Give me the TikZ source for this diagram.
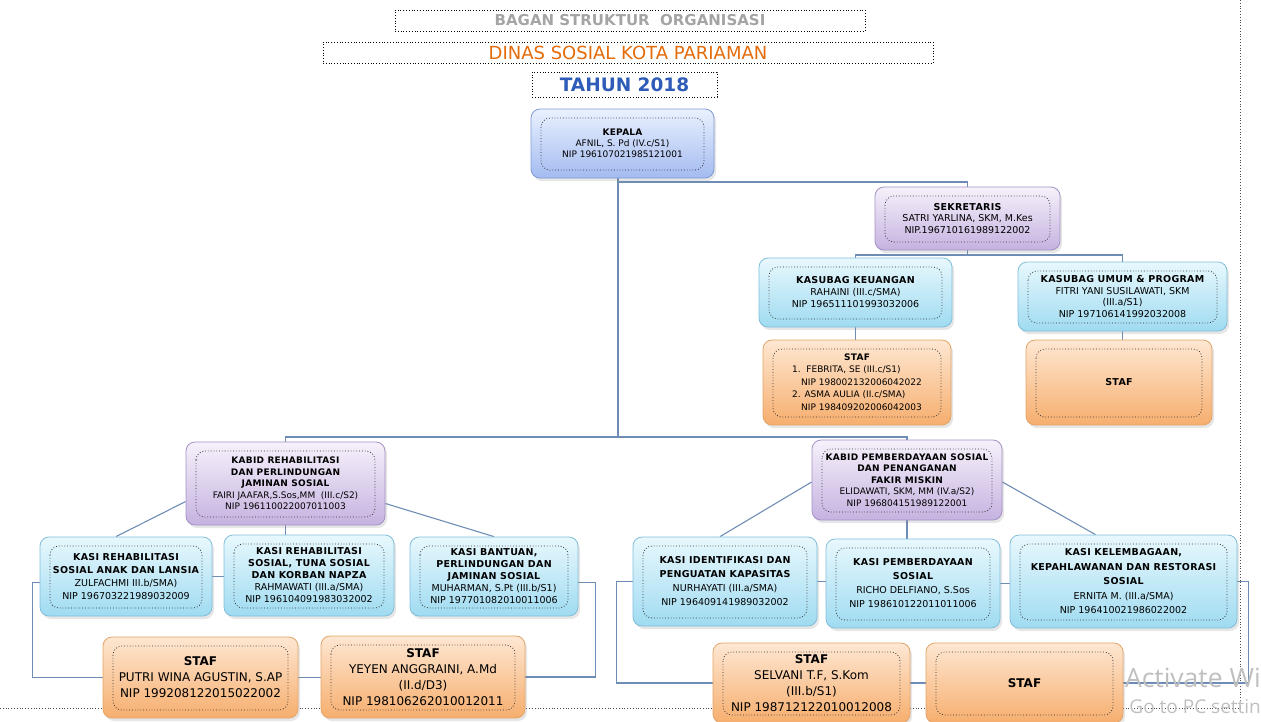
\documentclass[tikz,border=0pt]{standalone}
\usepackage{fontspec}
\setmainfont{DejaVu Sans}
\newfontfamily\wmfont{Open Sans}
\usetikzlibrary{shadows,backgrounds}

\definecolor{lineblue}{HTML}{6F8DB4}
\definecolor{kasitop}{HTML}{E8F8FD}
\definecolor{kasibot}{HTML}{9FDBF1}
\definecolor{kasiedge}{HTML}{80BEDA}
\definecolor{kabidtop}{HTML}{F6F1FB}
\definecolor{kabidbot}{HTML}{C5B2E0}
\definecolor{kabidedge}{HTML}{A391C4}
\definecolor{kepalatop}{HTML}{EAF1FF}
\definecolor{kepalabot}{HTML}{A3BBF0}
\definecolor{kepalaedge}{HTML}{7F9BD5}
\definecolor{staftop}{HTML}{FEE7D2}
\definecolor{stafbot}{HTML}{F6AE6E}
\definecolor{stafedge}{HTML}{E3A467}
\definecolor{titlegrey}{HTML}{A5A5A5}
\definecolor{titleorange}{HTML}{E46C0A}
\definecolor{titleblue}{HTML}{2E5CB8}

\newcommand{\hdr}[1]{{\bfseries\addfontfeatures{LetterSpace=3}#1}}

\tikzset{
  orgbox/.style={rounded corners=9pt, draw=#1edge, top color=#1top, bottom color=#1bot,
    line width=0.8pt, drop shadow={opacity=0.2, shadow xshift=2pt, shadow yshift=-3pt},
    align=center, text=black, inner sep=2pt, font=\fontsize{9.5}{12}\selectfont,
    path picture={\draw[dotted, line width=0.8pt, black!80]
      ([shift={(10pt,-9pt)}]path picture bounding box.north west) rectangle
      ([shift={(-10pt,8pt)}]path picture bounding box.south east);}},
  stafbox/.style={orgbox=staf, font=\fontsize{12}{16}\selectfont},
  titlebox/.style={draw, dotted, line width=0.8pt, fill=white, inner sep=0pt},
  link/.style={draw=lineblue, line width=1.1pt},
  pageline/.style={dotted, line width=0.8pt, black!70}
}

\begin{document}
\begin{tikzpicture}[x=1pt, y=-1pt]
\useasboundingbox (0,0) rectangle (1261,721);
\clip (0,0) rectangle (1261,721);

% judul
\node[titlebox, minimum width=470, minimum height=21, text=titlegrey,
      font=\fontsize{15}{15}\selectfont\bfseries] (judul) at (630,20.5) {BAGAN STRUKTUR\ \ ORGANISASI};
\node[titlebox, minimum width=610, minimum height=21, text=titleorange,
      font=\fontsize{18}{18}\selectfont] (dinas) at (628,52.5) {DINAS SOSIAL KOTA PARIAMAN};
\node[titlebox, minimum width=185, minimum height=25, text=titleblue,
      font=\fontsize{18.5}{18.5}\selectfont\bfseries] (tahun) at (624.5,84.5) {TAHUN 2018};

% pimpinan dan sekretariat
\node[orgbox=kepala, minimum width=183, minimum height=69, font=\fontsize{9}{11}\selectfont] (kepala) at (622.5,143.5)
  {\hdr{KEPALA}\\AFNIL, S. Pd (IV.c/S1)\\NIP 196107021985121001};
\node[orgbox=kabid, minimum width=185, minimum height=63, font=\fontsize{9.5}{11.5}\selectfont] (sekr) at (967.5,218.5)
  {\hdr{SEKRETARIS}\\SATRI YARLINA, SKM, M.Kes\\NIP.196710161989122002};
\node[orgbox=kasi, minimum width=193, minimum height=69] (keu) at (855.5,292.5)
  {\hdr{KASUBAG KEUANGAN}\\RAHAINI (III.c/SMA)\\NIP 196511101993032006};
\node[orgbox=kasi, minimum width=209, minimum height=69, font=\fontsize{9.5}{11.5}\selectfont] (umum) at (1122.5,296.5)
  {\hdr{KASUBAG UMUM \& PROGRAM}\\FITRI YANI SUSILAWATI, SKM\\(III.a/S1)\\NIP 197106141992032008};
\node[orgbox=staf, minimum width=188, minimum height=85, font=\fontsize{9}{12.5}\selectfont] (stafK) at (857,382.5)
  {\begin{tabular}{@{}l@{}}\multicolumn{1}{@{}c@{}}{\hdr{STAF}}\\1.\ \ FEBRITA, SE (III.c/S1)\\\quad NIP 198002132006042022\\2. ASMA AULIA (II.c/SMA)\\\quad NIP 198409202006042003\end{tabular}};
\node[orgbox=staf, minimum width=186, minimum height=85] (stafU) at (1119,382.5) {\hdr{STAF}};

% bidang
\node[orgbox=kabid, minimum width=199, minimum height=83, font=\fontsize{9}{11.5}\selectfont] (kabidR) at (285.5,483.5)
  {\hdr{KABID REHABILITASI}\\\hdr{DAN PERLINDUNGAN}\\\hdr{JAMINAN SOSIAL}\\FAIRI JAAFAR,S.Sos,MM\ \ (III.c/S2)\\NIP 196110022007011003};
\node[orgbox=kabid, minimum width=190, minimum height=80, font=\fontsize{9}{11.5}\selectfont] (kabidP) at (907,480)
  {\hdr{KABID PEMBERDAYAAN SOSIAL}\\\hdr{DAN PENANGANAN}\\\hdr{FAKIR MISKIN}\\ELIDAWATI, SKM, MM (IV.a/S2)\\NIP 196804151989122001};

% seksi
\node[orgbox=kasi, minimum width=172, minimum height=79, font=\fontsize{9.5}{13}\selectfont] (kasi1) at (126,576.5)
  {\hdr{KASI REHABILITASI}\\\hdr{SOSIAL ANAK DAN LANSIA}\\ZULFACHMI III.b/SMA)\\NIP 196703221989032009};
\node[orgbox=kasi, minimum width=170, minimum height=81] (kasi2) at (309,575.5)
  {\hdr{KASI REHABILITASI}\\\hdr{SOSIAL, TUNA SOSIAL}\\\hdr{DAN KORBAN NAPZA}\\RAHMAWATI (III.a/SMA)\\NIP 196104091983032002};
\node[orgbox=kasi, minimum width=168, minimum height=79] (kasi3) at (494,576.5)
  {\hdr{KASI BANTUAN,}\\\hdr{PERLINDUNGAN DAN}\\\hdr{JAMINAN SOSIAL}\\MUHARMAN, S.Pt (III.b/S1)\\NIP 197701082010011006};
\node[orgbox=kasi, minimum width=184, minimum height=89, font=\fontsize{9.5}{14}\selectfont] (kasi4) at (725,581.5)
  {\hdr{KASI IDENTIFIKASI DAN}\\\hdr{PENGUATAN KAPASITAS}\\NURHAYATI (III.a/SMA)\\NIP 196409141989032002};
\node[orgbox=kasi, minimum width=174, minimum height=89, font=\fontsize{9.5}{14}\selectfont] (kasi5) at (913,583.5)
  {\hdr{KASI PEMBERDAYAAN}\\\hdr{SOSIAL}\\RICHO DELFIANO, S.Sos\\NIP 198610122011011006};
\node[orgbox=kasi, minimum width=227, minimum height=93, font=\fontsize{9.5}{14.5}\selectfont] (kasi6) at (1123.5,581.5)
  {\hdr{KASI KELEMBAGAAN,}\\\hdr{KEPAHLAWANAN DAN RESTORASI}\\\hdr{SOSIAL}\\ERNITA M. (III.a/SMA)\\NIP 196410021986022002};

% staf bidang
\node[stafbox, minimum width=195, minimum height=81] (putri) at (200.5,677.5)
  {\textbf{STAF}\\PUTRI WINA AGUSTIN, S.AP\\NIP 199208122015022002};
\node[stafbox, minimum width=204, minimum height=82] (yeyen) at (423,677)
  {\textbf{STAF}\\YEYEN ANGGRAINI, A.Md\\(II.d/D3)\\NIP 198106262010012011};
\node[stafbox, minimum width=197, minimum height=80] (selvani) at (811.5,683)
  {\textbf{STAF}\\SELVANI T.F, S.Kom\\(III.b/S1)\\NIP 198712122010012008};
\node[stafbox, minimum width=197, minimum height=80] (stafE) at (1024.5,683) {\textbf{STAF}};

% garis penghubung
\begin{scope}[on background layer]
  \draw[pageline] (0,708) -- (1240,708);
  \draw[pageline] (1240,0) -- (1240,712);
  \coordinate (kj) at (618,182);
  \coordinate (bus) at (618,437);
  \coordinate (sj) at (967.5,255);
  \draw[link] (kj |- kepala.south) -- (bus);
  \draw[link] (kj) -| (sekr.north);
  \draw[link] (kabidR.north) |- (bus) -| (kabidP.north);
  \draw[link] (sekr.south) -- (sj);
  \draw[link] (keu.north) |- (sj) -| (umum.north);
  \draw[link] (keu.south) -- (keu.south |- stafK.north);
  \draw[link] (umum.south) -- (umum.south |- stafU.north);
  \draw[link] ([yshift=-18pt]kabidR.west) -- ([xshift=-10pt]kasi1.north);
  \draw[link] (kabidR.south) -- (kabidR.south |- kasi2.north);
  \draw[link] ([yshift=-20pt]kabidR.east) -- (kasi3.north);
  \draw[link] ([yshift=-2pt]kabidP.west) -- ([xshift=-5pt]kasi4.north);
  \draw[link] (kabidP.south) -- (kabidP.south |- kasi5.north);
  \draw[link] ([yshift=-2pt]kabidP.east) -- ([xshift=-28pt]kasi6.north);
  \draw[link] (kasi1.east) -- (kasi1.east -| kasi2.west);
  \draw[link] (kasi4.east) -- (kasi4.east -| kasi5.west);
  \draw[link] (kasi5.east) -- (kasi5.east -| kasi6.west);
  \draw[link] ([yshift=-6pt]kasi1.west) -- ++(-7,0) |- (putri.west);
  \draw[link] (putri.east) -- (putri.east -| yeyen.west);
  \draw[link] (yeyen.east) -- ++(70,0) |- ([yshift=-6pt]kasi3.east);
  \draw[link] (kasi4.west) -- ++(-16,0) |- (selvani.west);
  \draw[link] (selvani.east) -- (selvani.east -| stafE.west);
  \draw[link] (stafE.east) -- ++(125,0) |- (kasi6.east);
\end{scope}

% tanda air
\node[anchor=east, inner sep=0pt, text=black!25, font=\wmfont\fontsize{26.5}{26.5}\selectfont] (wm1) at (1261,678) {Activate Wi};
\node[anchor=east, inner sep=0pt, text=black!25, font=\wmfont\fontsize{19}{19}\selectfont] (wm2) at (1261,707) {Go to PC settin};
\end{tikzpicture}
\end{document}
